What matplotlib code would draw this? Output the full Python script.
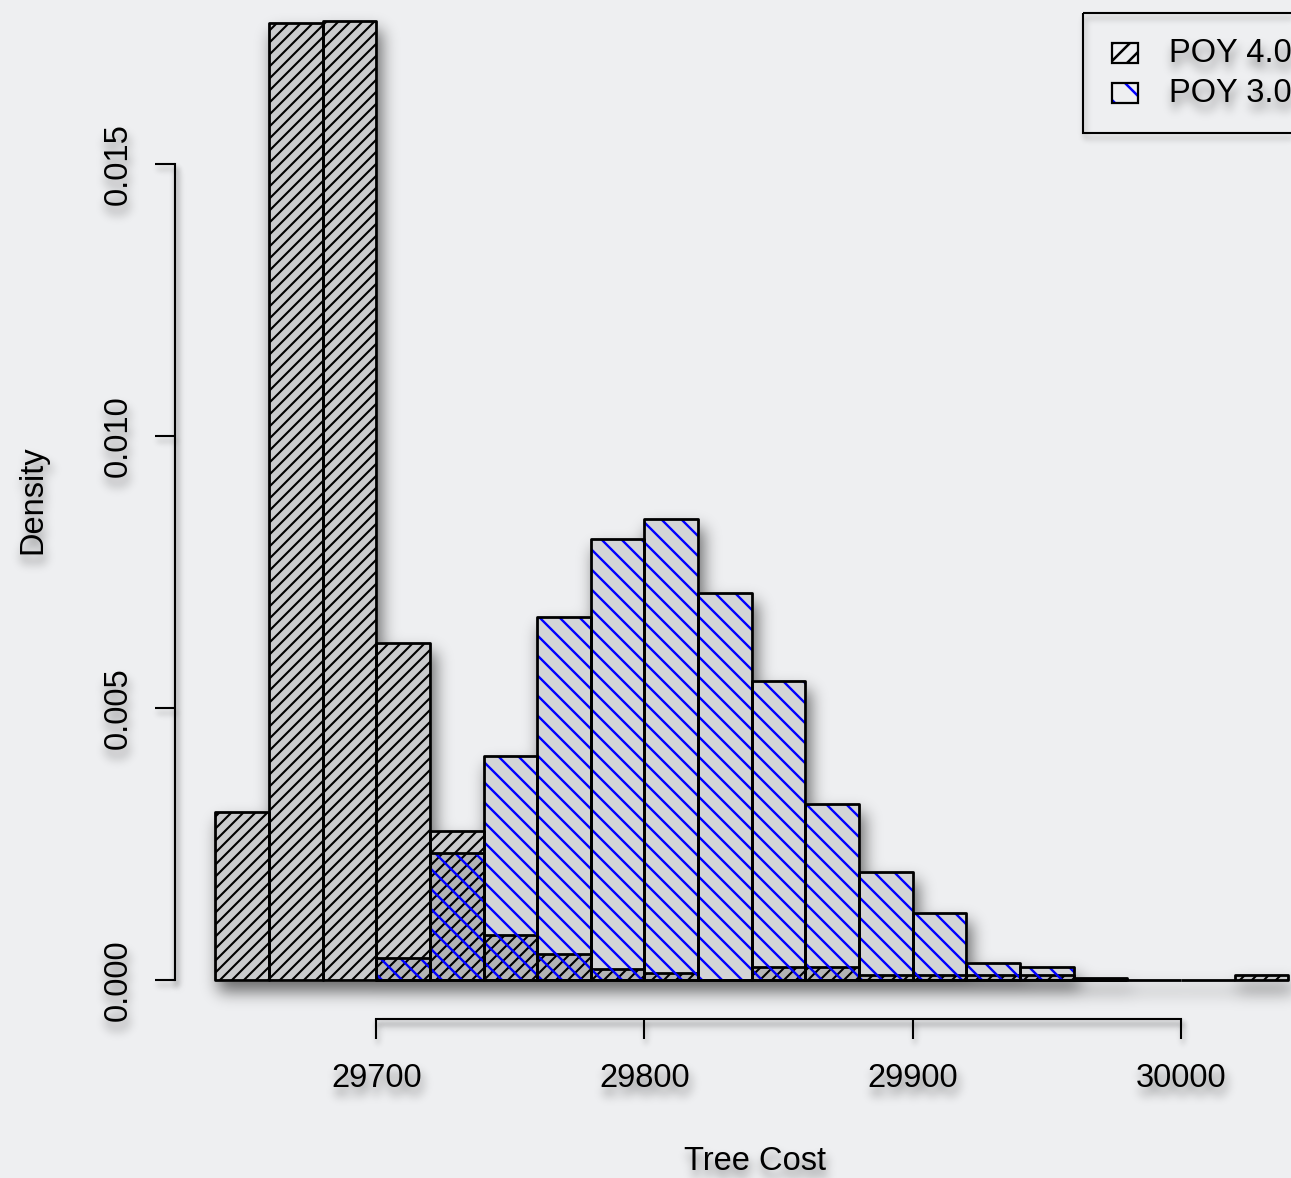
import numpy as np
import matplotlib
matplotlib.use("Agg")
import matplotlib.pyplot as plt
from matplotlib.collections import PatchCollection, LineCollection
from matplotlib.patches import Rectangle
from matplotlib.path import Path
from matplotlib.transforms import Affine2D, IdentityTransform

plt.rcParams['font.family'] = ['Liberation Sans', 'DejaVu Sans']

# histogram densities, bins 20 wide
bin_width = 20
poy4_starts = [29640, 29660, 29680, 29700, 29720, 29740, 29760, 29780, 29800, 29820,
               29840, 29860, 29880, 29900, 29920, 29940, 29960, 29980, 30000, 30020]
poy4_density = [0.00309, 0.01759, 0.01763, 0.00620, 0.00274, 0.00084, 0.00049, 0.00020,
                0.00014, 0.0, 0.00025, 0.00025, 0.00009, 0.00009, 0.00009, 0.00009,
                0.0, 0.0, 0.0, 0.00009]
poy3_starts = [29700, 29720, 29740, 29760, 29780, 29800, 29820, 29840, 29860, 29880,
               29900, 29920, 29940, 29960]
poy3_density = [0.00042, 0.00234, 0.00412, 0.00667, 0.00811, 0.00848, 0.00712, 0.00550,
                0.00325, 0.00199, 0.00123, 0.00032, 0.00025, 0.00004]

x_ticks = [29700, 29800, 29900, 30000]
y_ticks = [0.0, 0.005, 0.010, 0.015]
y_tick_labels = ['0.000', '0.005', '0.010', '0.015']
legend_labels = ['POY 4.0', 'POY 3.0']
legend_colors = ['black', 'blue']

W, H = 1291, 1178
BG = '#eeeff1'


def blur(a, sigma):
    r = max(1, int(3 * sigma))
    k = np.exp(-0.5 * (np.arange(-r, r + 1) / sigma) ** 2)
    k /= k.sum()
    h, w = a.shape
    p = np.pad(a, ((0, 0), (r, r)))
    tmp = np.zeros_like(a)
    for i, kv in enumerate(k):
        tmp += kv * p[:, i:i + w]
    p = np.pad(tmp, ((r, r), (0, 0)))
    out = np.zeros_like(a)
    for i, kv in enumerate(k):
        out += kv * p[i:i + h, :]
    return out


class DropShadow:
    """agg filter: soft shadow under whatever the artist draws"""

    def __init__(self, sigma, dx, dy, opacity, keep_source=True):
        self.sigma, self.dx, self.dy = sigma, dx, dy
        self.opacity, self.keep_source = opacity, keep_source

    def __call__(self, im, dpi):
        pad = int(3 * self.sigma + max(abs(self.dx), abs(self.dy))) + 2
        src = np.pad(im, ((pad, pad), (pad, pad), (0, 0)))
        a = src[..., 3]
        sh = np.roll(np.roll(a, self.dx, axis=1), self.dy, axis=0)
        sh = np.clip(blur(sh, self.sigma) * self.opacity, 0, 1)
        out = np.zeros_like(src)
        if self.keep_source:
            oa = a + sh * (1 - a)
            safe = np.where(oa > 0, oa, 1)
            out[..., :3] = src[..., :3] * (a / safe)[..., None]
            out[..., 3] = oa
        else:
            out[..., 3] = sh * (1 - a)
        return out, -pad, -pad


text_shadow = DropShadow(5, 2, 8, 0.5)
line_shadow = DropShadow(3, 2, 5, 0.3)

fig = plt.figure(figsize=(W / 100, H / 100), dpi=100)
fig.patch.set_facecolor(BG)
ax = fig.add_axes([175 / W, 1 - 1019 / H, 1 - 175 / W, 1019 / H])
ax.set_facecolor('none')
ax.set_xlim(29625, 30041)
ax.set_ylim(-0.00071, 0.01802)

# pixel coords, origin top-left
pix = Affine2D().scale(1, -1).translate(0, H)


def bar_rects(starts, heights):
    return [Rectangle((s, 0), bin_width, h) for s, h in zip(starts, heights)]


def bar_outline(starts, heights):
    verts, codes = [], []
    for s, h in zip(starts, heights):
        if h <= 0:
            continue
        verts += [(s, 0), (s + bin_width, 0), (s + bin_width, h), (s, h), (s, 0)]
        codes += [Path.MOVETO, Path.LINETO, Path.LINETO, Path.LINETO, Path.CLOSEPOLY]
    return Path(verts, codes)


def hatch(spacing, rising, color, lw, clip_path, clip_trans, zorder, parent):
    if rising:
        segs = [[(c, 0), (c + H, H)] for c in np.arange(-H, W, spacing)]
    else:
        segs = [[(c, 0), (c - H, H)] for c in np.arange(0, W + H, spacing)]
    lc = LineCollection(segs, colors=color, linewidths=lw,
                        transform=IdentityTransform(), zorder=zorder)
    if parent is ax:
        ax.add_collection(lc, autolim=False)
    else:
        fig.add_artist(lc)
    lc.set_clip_path(clip_path, clip_trans)
    return lc


# soft shadow of both histograms
sil = PatchCollection(bar_rects(poy4_starts, poy4_density) + bar_rects(poy3_starts, poy3_density),
                      facecolor='black', edgecolor='black', linewidth=2, zorder=1)
sil.set_agg_filter(DropShadow(8, 4, 10, 0.55, keep_source=False))
ax.add_collection(sil)

# POY 4.0
ax.add_collection(PatchCollection(bar_rects(poy4_starts, poy4_density),
                                  facecolor=(0, 0, 0, 0.15), edgecolor='none', zorder=2))
hatch(12, True, 'black', 1.5, bar_outline(poy4_starts, poy4_density), ax.transData, 2.1, ax)
ax.add_collection(PatchCollection(bar_rects(poy4_starts, poy4_density),
                                  facecolor='none', edgecolor='black', linewidth=2, zorder=2.2))

# POY 3.0
ax.add_collection(PatchCollection(bar_rects(poy3_starts, poy3_density),
                                  facecolor=(0, 0, 0, 0.11), edgecolor='none', zorder=3))
hatch(20, False, 'blue', 1.7, bar_outline(poy3_starts, poy3_density), ax.transData, 3.1, ax)
ax.add_collection(PatchCollection(bar_rects(poy3_starts, poy3_density),
                                  facecolor='none', edgecolor='black', linewidth=2, zorder=3.2))

# axes in R style
for side in ['top', 'right']:
    ax.spines[side].set_visible(False)
ax.spines['left'].set_bounds(0, 0.015)
ax.spines['bottom'].set_bounds(29700, 30000)
for side in ['left', 'bottom']:
    ax.spines[side].set_linewidth(1.5)
    ax.spines[side].set_agg_filter(line_shadow)

ax.set_xticks(x_ticks, [str(t) for t in x_ticks])
ax.set_yticks(y_ticks, y_tick_labels, rotation=90, va='center')
ax.tick_params(axis='both', direction='out', length=14.4, width=1.5, labelsize=23.5)
ax.tick_params(axis='x', pad=17)
ax.tick_params(axis='y', pad=15)
for t in ax.get_xticklabels() + ax.get_yticklabels():
    t.set_agg_filter(text_shadow)
for tk in ax.xaxis.get_major_ticks() + ax.yaxis.get_major_ticks():
    tk.tick1line.set_agg_filter(line_shadow)

fig.text(755, 1161, 'Tree Cost', ha='center', va='center', fontsize=23.5,
         transform=pix, agg_filter=text_shadow)
fig.text(33, 500, 'Density', ha='center', va='center', rotation=90, fontsize=23.5,
         transform=pix, agg_filter=text_shadow)

# legend, partly outside the right edge
box = Rectangle((1083, 13), 400, 120, transform=pix, facecolor='none',
                edgecolor='black', linewidth=1.5)
box.set_agg_filter(line_shadow)
fig.add_artist(box)
for i, (lab, col) in enumerate(zip(legend_labels, legend_colors)):
    cy = 53 + 40 * i
    key = Rectangle((1112, cy - 10), 26, 20, transform=pix, facecolor='none',
                    edgecolor='black', linewidth=1.6, zorder=3)
    fig.add_artist(key)
    key_path = Path([(1112, cy - 10), (1138, cy - 10), (1138, cy + 10), (1112, cy + 10), (1112, cy - 10)],
                    [Path.MOVETO, Path.LINETO, Path.LINETO, Path.LINETO, Path.CLOSEPOLY])
    hatch(17 if i == 0 else 30, i == 0, col, 1.8, key_path, pix, 2.5, fig)
    fig.text(1169, cy, lab, ha='left', va='center', fontsize=23.5,
             transform=pix, agg_filter=text_shadow)

fig.savefig('out.png', dpi=100, facecolor=BG)
